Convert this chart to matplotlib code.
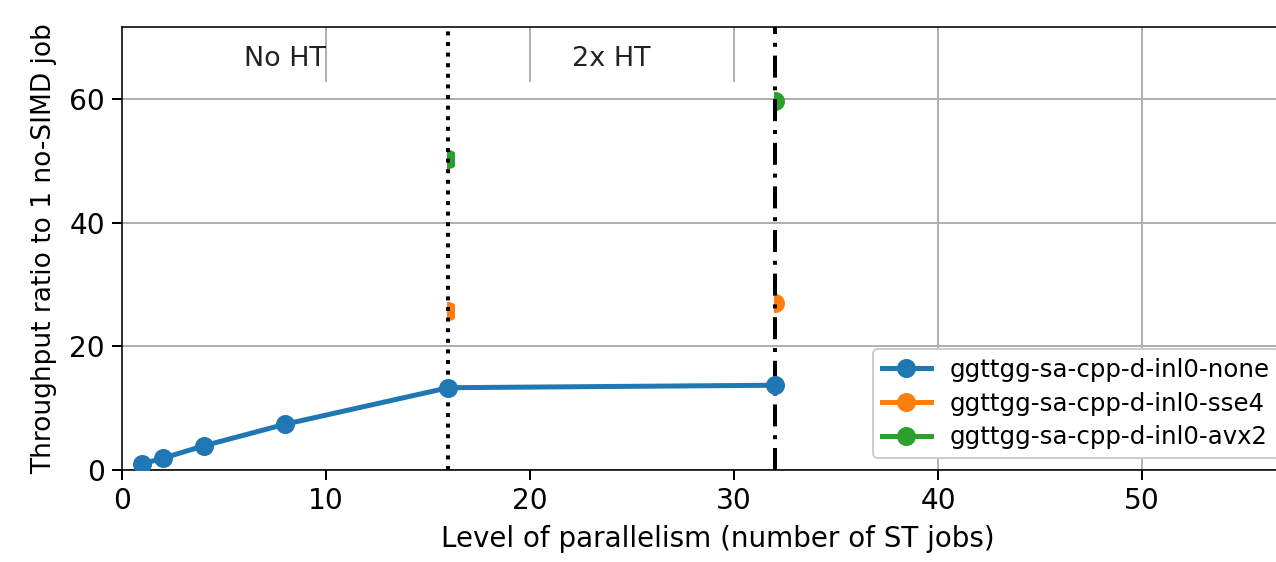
import matplotlib
matplotlib.use("Agg")
import matplotlib.pyplot as plt
from matplotlib.path import Path

# ---- data ----
jobs = [1, 2, 4, 8, 16, 32]
none_vals = [1.0, 1.9, 3.9, 7.4, 13.3, 13.7]
sse4_x = [16, 32]
sse4_vals = [25.7, 27.0]
avx2_x = [16, 32]
avx2_vals = [50.3, 59.7]
labels = ["ggttgg-sa-cpp-d-inl0-none", "ggttgg-sa-cpp-d-inl0-sse4", "ggttgg-sa-cpp-d-inl0-avx2"]
ht_labels = ["No HT", "2x HT"]
ht_label_x = [8, 24]
ht_label_y = 66.5
ht_lines = [16, 32]
xticks = [0, 10, 20, 30, 40, 50]
yticks = [0, 20, 40, 60]

W, H = 1276, 562
dpi = 144
fig = plt.figure(figsize=(W / dpi, H / dpi), dpi=dpi)
left = 122 / W
bottom = (H - 470) / H
top = (H - 27) / H
right = 1.03
ax = fig.add_axes([left, bottom, right - left, top - bottom])
xmax = (right * W - 122) / 20.4
ax.set_xlim(0, xmax)
ax.set_ylim(0, 71.6)

ax.set_xticks(xticks)
ax.set_yticks(yticks)
ax.tick_params(labelsize=14, length=5, width=1.0)
ax.grid(axis="y", color="#b0b0b0", lw=1.0, zorder=0.5)
ax.set_axisbelow(True)

# lower-left vertical gridlines are hidden behind a white box
cover_x, cover_y = 32.3, 62.7
for xt in xticks[1:]:
    y0 = cover_y if xt < cover_x else 0
    ax.vlines(xt, y0, 71.6, color="#b0b0b0", lw=1.0, zorder=0.4)

# vertical HT lines
ax.axvline(ht_lines[0], color="black", ls=":", lw=2.0, zorder=1)
ax.axvline(ht_lines[1], color="black", ls=(0, (5.5, 2.2, 1, 2.2)), lw=2.0, zorder=1)

ms = 8.5
ax.plot(jobs, none_vals, "-o", color="#1f77b4", lw=2.5, ms=ms, label=labels[0], zorder=3)
l2, = ax.plot(sse4_x, sse4_vals, "-o", color="#ff7f0e", lw=2.5, ms=ms, label=labels[1], zorder=0.9)
l3, = ax.plot(avx2_x, avx2_vals, "-o", color="#2ca02c", lw=2.5, ms=ms, label=labels[2], zorder=0.9)

clip = Path.make_compound_path(
    Path([(15.95, 0), (16.3, 0), (16.3, 72), (15.95, 72), (15.95, 0)], closed=True),
    Path([(31.95, 0), (33.0, 0), (33.0, 72), (31.95, 72), (31.95, 0)], closed=True),
)
for ln in (l2, l3):
    ln.set_clip_path(clip, ax.transData)

for t, xx in zip(ht_labels, ht_label_x):
    ax.text(xx, ht_label_y, t, ha="center", va="center", fontsize=13.5, color="#222222")

ax.set_xlabel("Level of parallelism (number of ST jobs)", fontsize=13.9, labelpad=5)
ax.set_ylabel("Throughput ratio to 1 no-SIMD job", fontsize=13.2, labelpad=6)

ax.legend(loc="upper left", bbox_to_anchor=(861 / W, (H - 337) / H),
          bbox_transform=fig.transFigure, fontsize=12.2, framealpha=1.0,
          edgecolor="#cccccc", fancybox=True, labelspacing=0.4, borderpad=0.35)

fig.savefig("out.png", dpi=dpi)
